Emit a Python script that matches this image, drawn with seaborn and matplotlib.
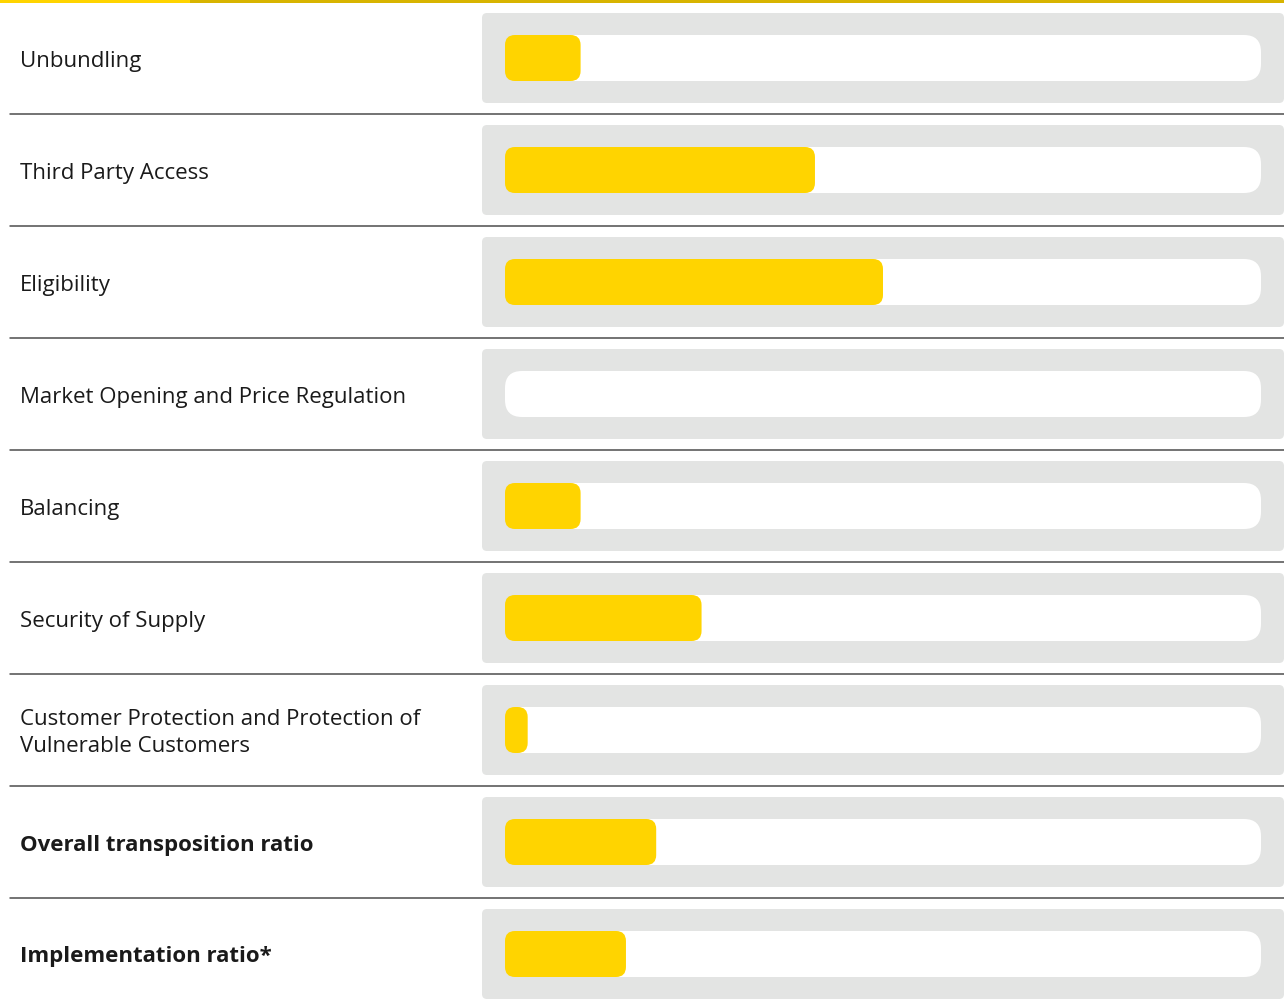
import matplotlib
matplotlib.use("Agg")

import matplotlib.pyplot as plt
import seaborn as sns
import pandas as pd
from matplotlib.patches import FancyBboxPatch, Rectangle
from matplotlib.transforms import blended_transform_factory

categories = [
    "Unbundling",
    "Third Party Access",
    "Eligibility",
    "Market Opening and Price Regulation",
    "Balancing",
    "Security of Supply",
    "Customer Protection and Protection of\nVulnerable Customers",
    "Overall transposition ratio",
    "Implementation ratio*",
]
values = [10, 41, 50, 0, 10, 26, 3, 20, 16]
bold_rows = [7, 8]

YELLOW = "#FFD400"
GOLD = "#D8B400"
GREY = "#E3E4E3"
TEXT = "#1A1A1A"

W, H = 1284, 1002
df = pd.DataFrame({"cat": categories, "val": values})

sns.set_style("white")
plt.rcParams["font.family"] = ["Open Sans", "DejaVu Sans"]

fig = plt.figure(figsize=(W / 100, H / 100), dpi=100)
# axes covers the white track region horizontally, whole height vertically
ax = fig.add_axes([505 / W, 0, 756 / W, 1])

sns.barplot(data=df, x="val", y="cat", orient="h", color=YELLOW,
            width=46 / 112, ax=ax, saturation=1)

ax.set_xlim(0, 100)
ax.set_ylim(944 / 112, -58 / 112)
ax.axis("off")

px_x = 756 / 100   # pixels per x unit
px_y = 112         # pixels per y unit
aspect = px_x / px_y

# swap seaborn's bars for rounded ones
bars = list(ax.patches)
for i, p in enumerate(bars):
    x0, y0 = p.get_x(), p.get_y()
    w, h = p.get_width(), p.get_height()
    p.remove()

    # grey panel behind the row
    gx0 = -23 / px_x
    gx1 = 100 + 23 / px_x
    gh = 90 / px_y
    r = 5 / px_x
    ax.add_patch(FancyBboxPatch((gx0 + r, i - gh / 2 + r * aspect),
                                gx1 - gx0 - 2 * r, gh - 2 * r * aspect,
                                boxstyle=f"round,pad={r},rounding_size={r}",
                                mutation_aspect=aspect, fc=GREY, ec="none",
                                clip_on=False, zorder=1))
    # white track
    r = 17 / px_x
    ax.add_patch(FancyBboxPatch((0 + r, y0 + r * aspect), 100 - 2 * r, h - 2 * r * aspect,
                                boxstyle=f"round,pad={r},rounding_size={r}",
                                mutation_aspect=aspect, fc="white", ec="none",
                                clip_on=False, zorder=2))
    # yellow value bar
    if w > 0:
        r = min(10 / px_x, w / 2)
        ax.add_patch(FancyBboxPatch((x0 + r, y0 + r * aspect), w - 2 * r, h - 2 * r * aspect,
                                    boxstyle=f"round,pad={r},rounding_size={r}",
                                    mutation_aspect=aspect, fc=YELLOW, ec="none",
                                    clip_on=False, zorder=3))

# row labels and separators
trans = blended_transform_factory(fig.transFigure, ax.transData)
for i, label in enumerate(categories):
    ax.text(20 / W, i + 3 / px_y, label, transform=trans, ha="left", va="center",
            fontsize=16, color=TEXT, linespacing=1.4,
            fontweight="bold" if i in bold_rows else "normal")
    if i < len(categories) - 1:
        ax.plot([10 / W, 1], [i + 0.5, i + 0.5], transform=trans, color="#4D4D4D",
                lw=1.1, clip_on=False, zorder=4)

# top rule
fig.add_artist(Rectangle((0, 1 - 3 / H), 190 / W, 3 / H, transform=fig.transFigure,
                         fc=YELLOW, ec="none"))
fig.add_artist(Rectangle((190 / W, 1 - 3 / H), 1 - 190 / W, 3 / H, transform=fig.transFigure,
                         fc=GOLD, ec="none"))

fig.savefig("out.png", dpi=100)
plt.close(fig)
